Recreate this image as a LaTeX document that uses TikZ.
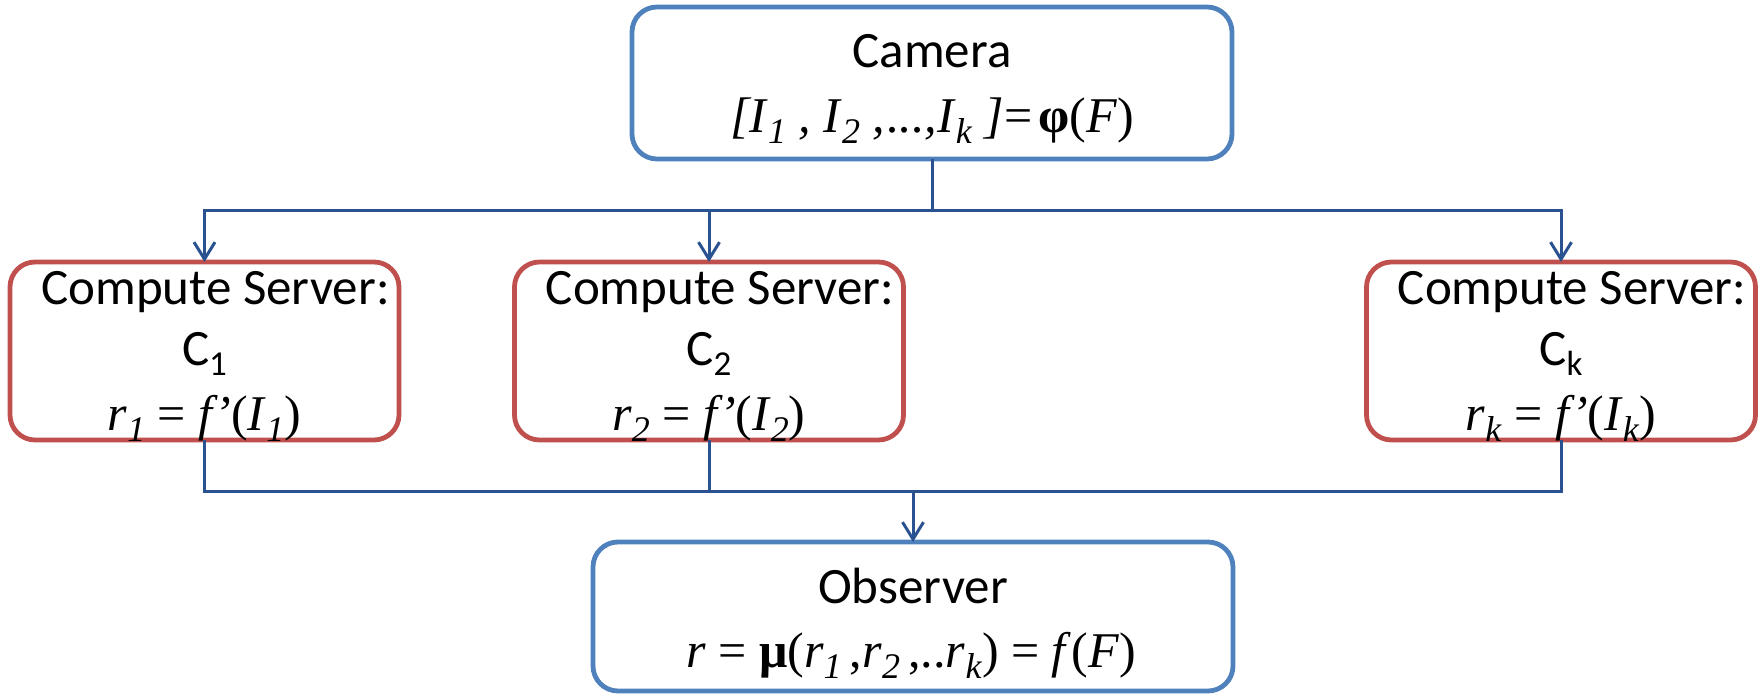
\documentclass[tikz,border=0pt]{standalone}
\usepackage{fontspec}
\setmainfont{Carlito}
\newfontfamily\eqfont{Liberation Serif}
\usetikzlibrary{arrows.meta}
\definecolor{boxblue}{HTML}{4F81BD}
\definecolor{boxred}{HTML}{C0504D}
\definecolor{linkblue}{HTML}{2A5290}
% lowered, smaller indices for the formulas and for the server names
\newcommand{\eqsub}[1]{\raisebox{-5.5pt}{\fontsize{18}{18}\selectfont #1}}
\newcommand{\cisub}[1]{\raisebox{-5pt}{\fontsize{17.5}{17.5}\selectfont #1}}

\begin{document}
\begin{tikzpicture}[x=0.5pt,y=-0.5pt,
  frame/.style={draw, line width=2.4pt, rounded corners=12.5pt, outer sep=0pt, inner sep=0pt},
  bluebox/.style={frame, draw=boxblue},
  redbox/.style={frame, draw=boxred, minimum width=194.5pt, minimum height=89pt},
  label/.style={anchor=base, inner sep=0pt, font=\fontsize{25.5}{30}\selectfont},
  eqlabel/.style={anchor=base, inner sep=0pt, font=\eqfont\fontsize{25}{30}\selectfont},
  conn/.style={draw=linkblue, line width=1.5pt},
  downarrow/.style={-{Straight Barb[length=8.5pt,width=10.5pt]}}
]
\useasboundingbox (0,0) rectangle (1762,695);

% boxes
\node[bluebox, minimum width=300pt, minimum height=76pt] (cam) at (932,83) {};
\node[redbox] (s1) at (204.5,351) {};
\node[redbox] (s2) at (709,351) {};
\node[redbox] (sk) at (1561,351) {};
\node[bluebox, minimum width=320pt, minimum height=74.5pt] (obs) at (913,616.5) {};

% connectors
\coordinate (split) at (932,211);
\coordinate (merge) at (913,491);
\draw[conn] (cam.south) -- (split);
\draw[conn,downarrow] (split) -| (s1.north);
\draw[conn,downarrow] (split) -| (s2.north);
\draw[conn,downarrow] (split) -| (sk.north);
\draw[conn] (s1.south) |- (merge);
\draw[conn] (s2.south) |- (merge);
\draw[conn] (sk.south) |- (merge);
\draw[conn,downarrow] (merge) -- (obs.north);

% camera
\node[label] (camT) at (932,68) {Camera};
\node[eqlabel] (camE) at (932,133) {\textit{[I}\eqsub{\textit{1}}\textit{ , I}\eqsub{\textit{2}}\textit{ ,\kern1pt...,I}\eqsub{\textit{k}}\textit{ ]}=\kern3pt\textbf{φ}(\textit{F})};

% compute servers
\node[label] (s1T) at (215.5,305) {Compute Server:};
\node[label] (s1C) at (204.5,365) {C\cisub{1}};
\node[eqlabel] (s1E) at (204.5,430) {\textit{r}\eqsub{\textit{1}} = \textit{f\kern1pt’}(\textit{I}\eqsub{\textit{1}})};

\node[label] (s2T) at (720,305) {Compute Server:};
\node[label] (s2C) at (709,365) {C\cisub{2}};
\node[eqlabel] (s2E) at (709,430) {\textit{r}\eqsub{\textit{2}} = \textit{f\kern1pt’}(\textit{I}\eqsub{\textit{2}})};

\node[label] (skT) at (1572,305) {Compute Server:};
\node[label] (skC) at (1561,365) {C\cisub{k}};
\node[eqlabel] (skE) at (1561,430) {\textit{r}\eqsub{\textit{k}} = \textit{f\kern1pt’}(\textit{I}\eqsub{\textit{k}})};

% observer
\node[label] (obsT) at (913,603) {Observer};
\node[eqlabel] (obsE) at (911,667) {\textit{r} = \textbf{μ}(\textit{r}\eqsub{\textit{1}}\,,\textit{r}\eqsub{\textit{2}}\,,..\textit{r}\eqsub{\textit{k}}) = \textit{f}(\textit{F})};
\end{tikzpicture}
\end{document}
